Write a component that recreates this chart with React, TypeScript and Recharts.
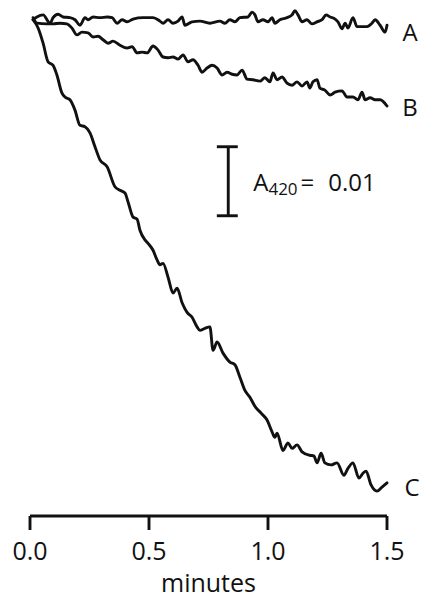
import React from 'react';
import { LineChart, Line, XAxis, YAxis, ReferenceLine, ReferenceDot, Label } from 'recharts';

// time (minutes) and ΔA420
const traceA = [
  [0.013, -0.0004], [0.029, 0.0], [0.055, 0.0003], [0.084, -0.0009], [0.097, -0.0001], [0.118, 0.0004],
  [0.139, 0.0], [0.168, -0.0001], [0.189, -0.0004], [0.21, -0.0012], [0.231, -0.0001], [0.244, -0.0004],
  [0.265, 0.0], [0.294, -0.0001], [0.324, 0.0], [0.345, -0.0001], [0.366, -0.0009], [0.387, -0.0004],
  [0.408, -0.0007], [0.433, -0.0003], [0.475, -0.0001], [0.517, -0.0001], [0.546, -0.0006], [0.559, -0.0009],
  [0.58, -0.0004], [0.601, -0.0009], [0.622, -0.0006], [0.639, 0.0], [0.651, -0.0012], [0.681, -0.0007],
  [0.714, -0.0006], [0.756, -0.0009], [0.798, -0.0006], [0.819, -0.0009], [0.84, -0.0004], [0.861, -0.0007],
  [0.882, -0.0001], [0.916, 0.0], [0.933, 0.0007], [0.945, 0.0003], [0.958, -0.0007], [0.979, -0.0004],
  [1.0, -0.0007], [1.017, -0.0001], [1.029, -0.0009], [1.05, -0.0004], [1.08, -0.0001], [1.101, 0.0003],
  [1.113, 0.0009], [1.126, 0.0003], [1.143, -0.0007], [1.164, -0.0004], [1.185, -0.001], [1.206, -0.0007],
  [1.227, -0.0004], [1.244, 0.0003], [1.261, 0.0], [1.282, -0.0003], [1.294, -0.0007], [1.311, -0.0017],
  [1.324, -0.0009], [1.336, -0.0016], [1.357, -0.0001], [1.374, -0.0014], [1.395, -0.0014], [1.416, -0.0014],
  [1.437, -0.0009], [1.45, -0.0004], [1.471, -0.0012], [1.492, -0.0022], [1.5, -0.0012],
];

const traceB = [
  [0.013, -0.0001], [0.029, -0.0009], [0.071, -0.001], [0.097, -0.001], [0.126, -0.0009], [0.155, -0.001],
  [0.176, -0.0016], [0.197, -0.0026], [0.218, -0.0022], [0.244, -0.0023], [0.265, -0.0029], [0.286, -0.0028],
  [0.307, -0.0033], [0.328, -0.0038], [0.349, -0.0035], [0.378, -0.0041], [0.408, -0.0045], [0.429, -0.0043],
  [0.45, -0.0052], [0.471, -0.0051], [0.492, -0.0052], [0.517, -0.0042], [0.538, -0.0048], [0.559, -0.0058],
  [0.58, -0.0059], [0.601, -0.0058], [0.622, -0.0061], [0.643, -0.0055], [0.664, -0.0065], [0.685, -0.0062],
  [0.706, -0.007], [0.723, -0.008], [0.744, -0.0074], [0.765, -0.007], [0.786, -0.0074], [0.807, -0.0084],
  [0.828, -0.008], [0.849, -0.0083], [0.87, -0.0084], [0.891, -0.0077], [0.912, -0.009], [0.937, -0.0091],
  [0.966, -0.0093], [0.987, -0.0088], [1.008, -0.0094], [1.021, -0.0081], [1.038, -0.0091], [1.059, -0.0087],
  [1.08, -0.0096], [1.101, -0.0099], [1.122, -0.0094], [1.143, -0.01], [1.164, -0.0094], [1.176, -0.0103],
  [1.189, -0.0094], [1.206, -0.0091], [1.218, -0.0103], [1.239, -0.0106], [1.261, -0.0113], [1.282, -0.0109],
  [1.311, -0.0107], [1.332, -0.0116], [1.357, -0.0116], [1.378, -0.012], [1.395, -0.0109], [1.408, -0.012],
  [1.429, -0.0117], [1.45, -0.012], [1.471, -0.012], [1.5, -0.0129],
];

const traceC = [
  [0.013, -0.0004], [0.034, -0.0016], [0.055, -0.0038], [0.076, -0.0065], [0.097, -0.007], [0.113, -0.0084],
  [0.134, -0.011], [0.147, -0.0116], [0.168, -0.012], [0.189, -0.0135], [0.21, -0.0157], [0.231, -0.0159],
  [0.252, -0.0168], [0.273, -0.0188], [0.294, -0.0207], [0.324, -0.0217], [0.357, -0.0246], [0.378, -0.0251],
  [0.399, -0.0255], [0.412, -0.0268], [0.433, -0.029], [0.45, -0.0293], [0.462, -0.0309], [0.483, -0.0323],
  [0.496, -0.0328], [0.517, -0.0338], [0.534, -0.0352], [0.546, -0.0359], [0.559, -0.0357], [0.58, -0.0377],
  [0.601, -0.04], [0.618, -0.0393], [0.639, -0.0414], [0.66, -0.0428], [0.681, -0.0435], [0.702, -0.0449],
  [0.714, -0.0454], [0.735, -0.0451], [0.756, -0.0449], [0.769, -0.0483], [0.786, -0.0471], [0.811, -0.0487],
  [0.84, -0.05], [0.861, -0.0504], [0.882, -0.0522], [0.903, -0.0541], [0.924, -0.0551], [0.945, -0.0564],
  [0.971, -0.0574], [0.996, -0.0584], [1.017, -0.0601], [1.029, -0.0609], [1.038, -0.0603], [1.063, -0.0628],
  [1.084, -0.0617], [1.101, -0.0625], [1.122, -0.062], [1.143, -0.063], [1.176, -0.0635], [1.193, -0.0636],
  [1.206, -0.0646], [1.223, -0.0632], [1.239, -0.0646], [1.265, -0.0649], [1.29, -0.0646], [1.319, -0.0664],
  [1.336, -0.0654], [1.357, -0.0646], [1.382, -0.0668], [1.399, -0.0661], [1.412, -0.0658], [1.433, -0.0678],
  [1.458, -0.0687], [1.479, -0.0681], [1.5, -0.0675],
];

const seriesNames = ['A', 'B', 'C'];
const seriesLabelPos = [
  [1.597, -0.0021],
  [1.597, -0.013],
  [1.605, -0.068],
];
const xTicks = [0, 0.5, 1.0, 1.5];
const xDomain = [0, 1.5];
const yDomain = [-0.0723, 0.0013];

// scale bar: ΔA420 = 0.01
const scaleBarX = 0.833;
const scaleBarCap = [0.785, 0.873];
const scaleBarTop = -0.0188;
const scaleBarBottom = scaleBarTop - 0.01;
const scaleBarTextPos = [0.938, -0.0252];

const FONT = '"Open Sans", "DejaVu Sans", sans-serif';
const INK = '#111';
const SW = 2.9;

const toRows = (arr: number[][]) => arr.map(([t, a]) => ({ t, a }));
const traces = [toRows(traceA), toRows(traceB), toRows(traceC)];

export default function App() {
  return (
    <div style={{ position: 'absolute', left: 0, top: 0, width: 423, height: 598 }}>
      <LineChart
        width={423}
        height={598}
        margin={{ top: 8, right: 36, left: 30, bottom: 0 }}
      >
        <XAxis
          dataKey="t"
          type="number"
          domain={xDomain}
          ticks={xTicks}
          tickFormatter={(v: number) => v.toFixed(1)}
          height={82}
          tickSize={14}
          tickMargin={12}
          axisLine={{ stroke: INK, strokeWidth: SW }}
          tickLine={{ stroke: INK, strokeWidth: SW }}
          tick={{ fill: INK, fontSize: 25, fontFamily: FONT }}
          interval={0}
        >
          <Label
            value="minutes"
            position="insideBottom"
            offset={6}
            style={{ fill: INK, fontSize: 25, fontFamily: FONT }}
          />
        </XAxis>
        <YAxis dataKey="a" type="number" domain={yDomain} hide />
        {traces.map((rows, i) => (
          <Line
            key={seriesNames[i]}
            data={rows}
            dataKey="a"
            type="monotone"
            stroke={INK}
            strokeWidth={SW}
            strokeLinejoin="round"
            strokeLinecap="round"
            dot={false}
            activeDot={false}
            isAnimationActive={false}
          />
        ))}
        {seriesNames.map((n, i) => (
          <ReferenceDot
            key={'lab' + n}
            x={seriesLabelPos[i][0]}
            y={seriesLabelPos[i][1]}
            r={0}
            ifOverflow="visible"
            shape={(p: any) => (
              <text
                x={p.cx}
                y={p.cy}
                textAnchor="middle"
                dominantBaseline="central"
                fontSize={24}
                fontFamily={FONT}
                fill={INK}
              >
                {n}
              </text>
            )}
          />
        ))}
        <ReferenceLine
          segment={[{ x: scaleBarX, y: scaleBarTop }, { x: scaleBarX, y: scaleBarBottom }]}
          stroke={INK}
          strokeWidth={SW}
          ifOverflow="visible"
        />
        <ReferenceLine
          segment={[{ x: scaleBarCap[0], y: scaleBarTop }, { x: scaleBarCap[1], y: scaleBarTop }]}
          stroke={INK}
          strokeWidth={SW}
          ifOverflow="visible"
        />
        <ReferenceLine
          segment={[{ x: scaleBarCap[0], y: scaleBarBottom }, { x: scaleBarCap[1], y: scaleBarBottom }]}
          stroke={INK}
          strokeWidth={SW}
          ifOverflow="visible"
        />
        <ReferenceDot
          x={scaleBarTextPos[0]}
          y={scaleBarTextPos[1]}
          r={0}
          ifOverflow="visible"
          shape={(p: any) => (
            <text x={p.cx} y={p.cy} fontSize={24} fontFamily={FONT} fill={INK}>
              <tspan>A</tspan>
              <tspan fontSize={17} dy={4}>420</tspan>
              <tspan dy={-4} dx={3}>=</tspan>
              <tspan dx={14}>0.01</tspan>
            </text>
          )}
        />
      </LineChart>
    </div>
  );
}
